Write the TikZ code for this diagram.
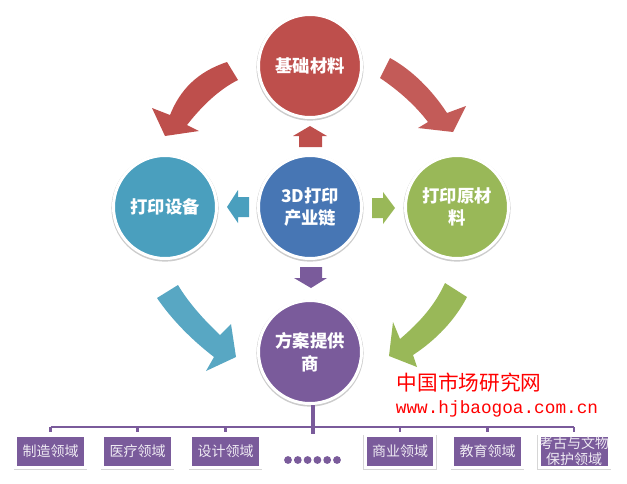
\documentclass[tikz,border=0pt]{standalone}
\usepackage{fontspec}
\setmainfont{Noto Sans CJK SC}
\newfontfamily\urlfont{Liberation Mono}
\definecolor{redfill}{HTML}{BE4F4C}
\definecolor{bluefill}{HTML}{4A9FBE}
\definecolor{corefill}{HTML}{4776B4}
\definecolor{greenfill}{HTML}{99B858}
\definecolor{purplefill}{HTML}{7A5B9B}
\tikzset{
	chainnode/.style={circle, draw=white, line width=2.25pt, minimum size=77.25pt, inner sep=0pt, align=center,
		text=white, font=\bfseries\fontsize{13}{17}\selectfont,
		preaction={draw=black!20, line width=3.1pt, transform canvas={yshift=-0.8pt}}},
	areabox/.style={rectangle, fill=purplefill, draw=white, line width=2.25pt, minimum width=52pt, minimum height=23.5pt,
		inner sep=0pt, align=center, text=white!88!purplefill, font=\fontsize{10.5}{12}\selectfont,
		preaction={draw=black!16, line width=3.1pt, transform canvas={yshift=-0.8pt}}},
	treeline/.style={draw=purplefill, line width=1.8pt},
	stamptext/.style={text=red, inner sep=0pt}
}
\begin{document}
\begin{tikzpicture}[x=0.75pt, y=-0.75pt]
	%%%%% START %%%%%
	\useasboundingbox (0, 0) rectangle (627, 483);

	\node[chainnode, fill=redfill] (material) at (310, 66) {基础材料};
	\node[chainnode, fill=bluefill] (device) at (165, 207) {打印设备};
	\node[chainnode, fill=corefill] (core) at (310, 207) {3D打印\\产业链};
	\node[chainnode, fill=greenfill] (rawstock) at (457, 207) {打印原材\\料};
	\node[chainnode, fill=purplefill] (provider) at (310, 352) {方案提供\\商};

	% big curved arrows
	\fill[redfill] (227, 62) .. controls (197, 72) and (180, 90) .. (170, 115) -- (152, 108) -- (165, 136)
		-- (199, 131) -- (187, 125) .. controls (205, 102) and (222, 88) .. (238, 80) -- cycle;
	\fill[redfill!93!white] (390, 58) .. controls (412, 70) and (432, 90) .. (447, 113) -- (466, 106) -- (453, 132)
		-- (418, 128) -- (428, 122) .. controls (415, 105) and (398, 90) .. (380, 78) -- cycle;
	\fill[bluefill!92!white] (178, 285) .. controls (188, 302) and (204, 320) .. (220, 335) -- (231, 324) -- (236, 357)
		-- (206, 371) -- (214, 357) .. controls (192, 340) and (172, 320) .. (157, 298) -- cycle;
	\fill[greenfill] (445, 283) .. controls (435, 305) and (420, 322) .. (400, 339) -- (393, 322) -- (389, 356)
		-- (417, 367) -- (413, 355) .. controls (436, 340) and (455, 320) .. (467, 297) -- cycle;

	% small arrows round the core
	\fill[redfill] (310, 126) -- (327, 136) -- (322, 136) -- (322, 147) -- (299, 147) -- (299, 136) -- (293, 136) -- cycle;
	\fill[bluefill] (227, 207) -- (238, 190) -- (238, 197) -- (249, 197) -- (249, 217) -- (238, 217) -- (238, 223) -- cycle;
	\fill[greenfill] (395, 208) -- (383, 192) -- (383, 198) -- (372, 198) -- (372, 218) -- (383, 218) -- (383, 224) -- cycle;
	\fill[purplefill] (311, 288) -- (327, 278) -- (322, 278) -- (322, 267) -- (300, 267) -- (300, 278) -- (294, 278) -- cycle;

	% application areas
	\node[areabox] (area1) at (50.5, 451.5) {制造领域};
	\node[areabox] (area2) at (137.5, 451.5) {医疗领域};
	\node[areabox] (area3) at (225.5, 451.5) {设计领域};
	\node[areabox] (area4) at (400, 451.5) {商业领域};
	\node[areabox] (area5) at (487.5, 451.5) {教育领域};
	\node[areabox] (area6) at (574, 451.5) {考古与文物\\保护领域};

	\coordinate (bus) at (313, 427);
	\coordinate (trunkend) at (313, 434);
	\draw[treeline, line width=2.4pt] (provider.south -| bus) -- (trunkend);
	\draw[treeline] (area1.north |- bus) -- (area6.north |- bus);
	\foreach \n in {1,...,6}
		\draw[treeline] (area\n.north |- bus) -- ++(0, 5);

	\foreach \i in {0,...,5}
		\fill[purplefill] (288 + \i*9.8, 460) circle (3.9);

	% stamp on top
	\node[stamptext, font=\fontsize{15.5}{18}\selectfont] (stampname) at (469, 383) {中国市场研究网};
	\node[stamptext, font=\urlfont\fontsize{13.3}{16}\selectfont] (stampurl) at (497, 409) {www.hjbaogoa.com.cn};
	%%%%% END %%%%%
\end{tikzpicture}
\end{document}
